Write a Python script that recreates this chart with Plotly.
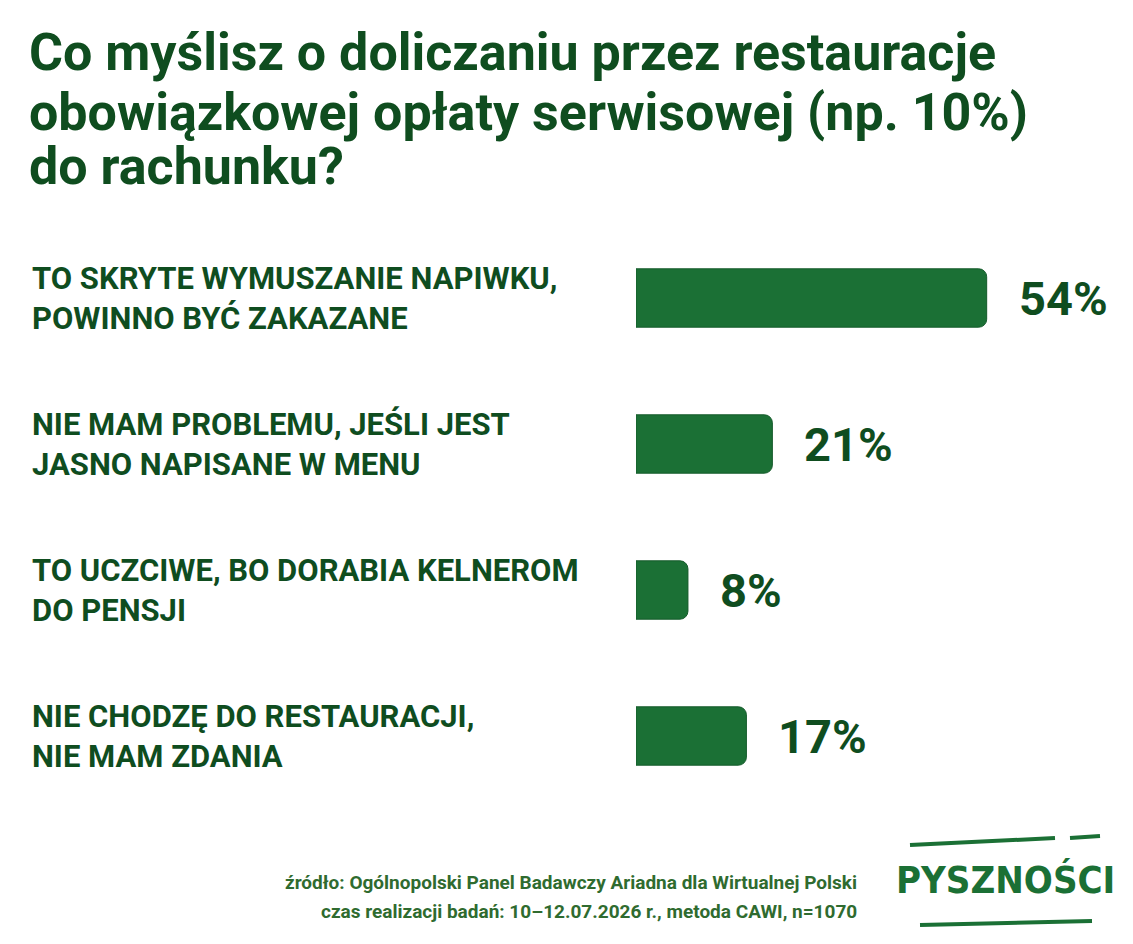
import plotly.graph_objects as go

categories = ["TO SKRYTE WYMUSZANIE NAPIWKU,<br>POWINNO BYĆ ZAKAZANE",
              "NIE MAM PROBLEMU, JEŚLI JEST<br>JASNO NAPISANE W MENU",
              "TO UCZCIWE, BO DORABIA KELNEROM<br>DO PENSJI",
              "NIE CHODZĘ DO RESTAURACJI,<br>NIE MAM ZDANIA"]
values = [54, 21, 8, 17]
labels = [f"{v}%" for v in values]
title_lines = ["Co myślisz o doliczaniu przez restauracje",
               "obowiązkowej opłaty serwisowej (np. 10%)",
               "do rachunku?"]
source_lines = ["źródło: Ogólnopolski Panel Badawczy Ariadna dla Wirtualnej Polski",
                "czas realizacji badań: 10–12.07.2026 r., metoda CAWI, n=1070"]

DARK = "#0f4d1f"
BAR = "#1b7035"
OFF = 8
W, H = 1133 - 2 * OFF, 944 - 2 * OFF
L, R, T, B = 636 - OFF, 0, 225 - OFF, 135 - OFF
pw = W - L - R
ph = H - T - B

def px(x):
    return (x - OFF - L) / pw

def py(y):
    return (H - B - (y - OFF)) / ph

fig = go.Figure(go.Bar(
    x=values, y=categories, orientation="h",
    marker=dict(color=BAR, line=dict(color="#145a2a", width=1)),
    width=0.4, cliponaxis=False,
))
fig.update_layout(
    width=W, height=H, margin=dict(l=L, r=R, t=T, b=B),
    paper_bgcolor="white", plot_bgcolor="white",
    barcornerradius=8, showlegend=False,
    xaxis=dict(range=[0, 75.3], visible=False),
    yaxis=dict(autorange="reversed", visible=False),
)
for v, c, t in zip(values, categories, labels):
    fig.add_annotation(x=v, y=c, text=t, showarrow=False, xanchor="left", xshift=30,
                       font=dict(family="Roboto", size=47, color=DARK, weight="bold"))
    fig.add_annotation(x=px(30), xref="paper", y=c, yref="y", text=c, showarrow=False,
                       xanchor="left", align="left",
                       font=dict(family="Roboto", size=31, color=DARK, weight="bold"))
for yy, t in zip([52, 113, 167], title_lines):
    fig.add_annotation(x=px(27), xref="paper", y=py(yy), yref="paper", text=t, showarrow=False,
                       xanchor="left", yanchor="middle",
                       font=dict(family="Roboto", size=52, color=DARK, weight="bold"))
for yy, t in zip([882, 911], source_lines):
    fig.add_annotation(x=px(859), xref="paper", y=py(yy), yref="paper", text=t,
                       showarrow=False, xanchor="right", yanchor="middle",
                       font=dict(family="Roboto", size=19, color="#2f6b2f", weight="bold"))
fig.add_annotation(x=px(1005), xref="paper", y=py(880), yref="paper",
                   text="PYSZNOŚCI", showarrow=False, xanchor="center", yanchor="middle",
                   font=dict(family="DejaVu Sans Condensed", size=38, color=BAR, weight="bold"))
for (x0, y0, x1, y1) in [(910, 845, 1055, 838), (1070, 838, 1100, 836), (920, 925, 1092, 921)]:
    fig.add_shape(type="line", xref="paper", yref="paper",
                  x0=px(x0), x1=px(x1), y0=py(y0), y1=py(y1),
                  line=dict(color=BAR, width=4))
fig.write_html("out.html")
